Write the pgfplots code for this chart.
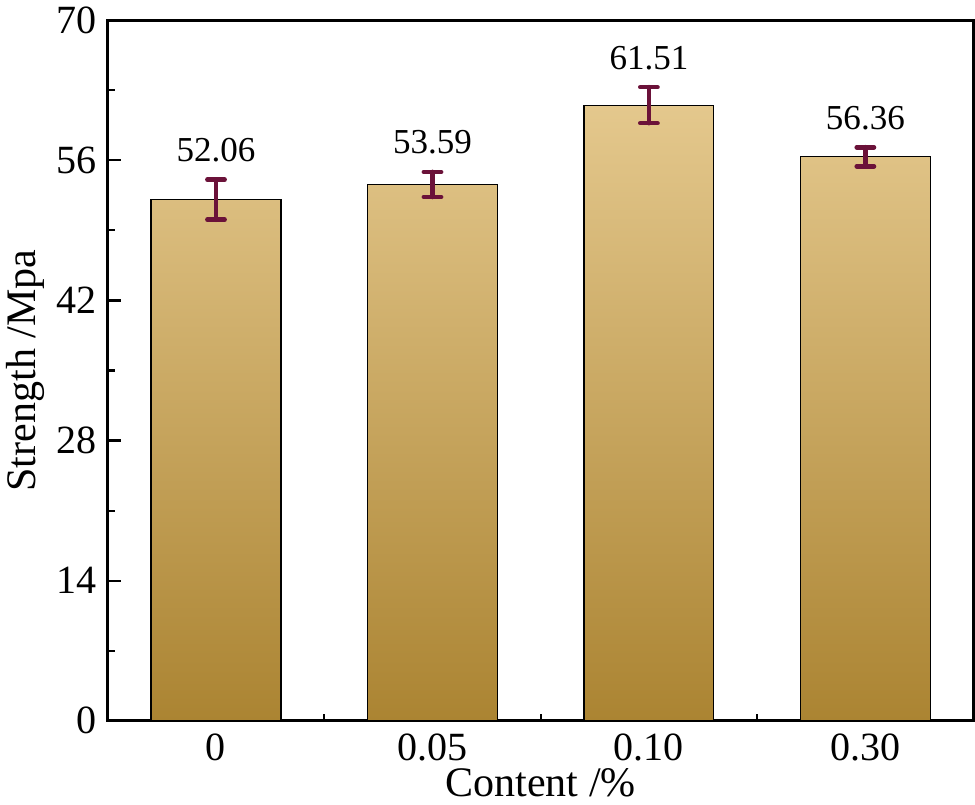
\documentclass[border=0pt]{standalone}
\usepackage{fontspec}
\setmainfont{Liberation Serif}
\usepackage{pgfplots}
\usepackage{pgfplotstable}
\pgfplotsset{compat=1.18}

\definecolor{barTop}{HTML}{E4C88D}
\definecolor{barBot}{HTML}{AB8432}
\definecolor{errC}{HTML}{6B1239}

\pgfplotstableread{
x y e lab
0 52.06 2.00 52.06
1 53.59 1.25 53.59
2 61.51 1.80 61.51
3 56.36 0.95 56.36
}\strength

\begin{document}
\begin{tikzpicture}
\begin{axis}[
  scale only axis,
  width=432.5pt, height=350pt,
  xmin=-0.5, xmax=3.5,
  ymin=0, ymax=70,
  xtick={0,1,2,3},
  xticklabels={0,0.05,0.10,0.30},
  ytick={0,14,28,42,56,70},
  minor x tick num=1,
  minor y tick num=1,
  xtick pos=left, ytick pos=left,
  tick align=inside,
  major tick length=6.5pt,
  minor tick length=3.5pt,
  axis line style={line width=1.4pt},
  every tick/.style={black, line width=1.1pt},
  tick label style={font=\fontsize{20}{24}\selectfont},
  /pgf/number format/assume math mode=true,
  yticklabel style={xshift=-2pt},
  xticklabel style={yshift=-3pt},
  label style={font=\fontsize{21}{25}\selectfont},
  xlabel={Content /\%},
  ylabel={Strength /Mpa},
  xlabel style={yshift=3pt},
  ylabel style={yshift=-1pt},
]
\addplot[ybar, bar shift=0pt, bar width=0.6, draw=black, line width=0.6pt,
  top color=barTop, bottom color=barBot,
  error bars/.cd, y dir=both, y explicit,
  error bar style={line width=2.3pt, color=errC, line cap=round},
  error mark options={rotate=90, mark size=4.3pt, line width=2.3pt, color=errC, line cap=round},
] table[x=x, y=y, y error=e] {\strength};
\addplot[draw=none, mark=none, nodes near coords, point meta=explicit symbolic,
  nodes near coords style={anchor=base, inner sep=0pt, yshift=9pt,
    font=\fontsize{17.5}{21}\selectfont},
] table[x=x, y expr=\thisrow{y}+\thisrow{e}, meta=lab] {\strength};
\end{axis}
\end{tikzpicture}
\end{document}
